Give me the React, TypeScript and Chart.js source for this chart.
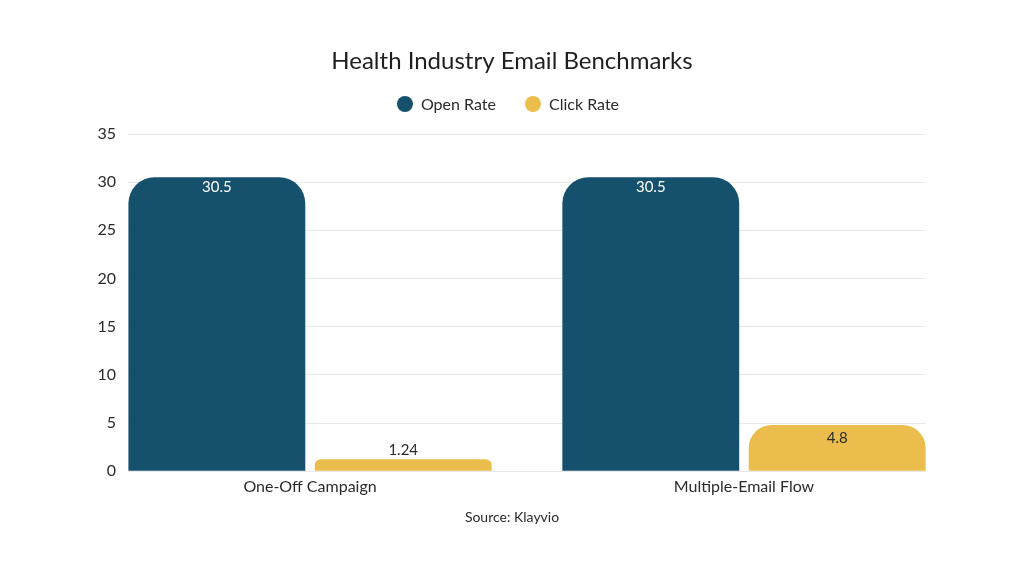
import React, { useEffect, useRef } from "react";
import { Chart, registerables } from "chart.js";

Chart.register(...registerables);

const categories = ["One-Off Campaign", "Multiple-Email Flow"];
const openRate = [30.5, 30.5];
const clickRate = [1.24, 4.8];
const yTicks = [0, 5, 10, 15, 20, 25, 30, 35];

const FONT = "Lato, 'Noto Sans', sans-serif";
const TEXT = "#2b2b2b";

// Writes each bar's value inside its top edge, or just above it when the bar is short.
const valueLabels = {
  id: "valueLabels",
  afterDatasetsDraw(chart: any) {
    const ctx = chart.ctx;
    ctx.save();
    ctx.font = `15px ${FONT}`;
    ctx.textAlign = "center";
    ctx.textBaseline = "middle";
    chart.data.datasets.forEach((ds: any, di: number) => {
      const meta = chart.getDatasetMeta(di);
      meta.data.forEach((bar: any, i: number) => {
        const v = ds.data[i].y;
        const h = bar.base - bar.y;
        if (h > 30) {
          ctx.fillStyle = di === 0 ? "#ffffff" : TEXT;
          ctx.fillText(String(v), bar.x, bar.y + (di === 0 ? 10 : 13));
        } else {
          ctx.fillStyle = TEXT;
          ctx.fillText(String(v), bar.x, bar.y - 9);
        }
      });
    });
    ctx.restore();
  },
};

// Legend row with round swatches, placed between the title and the plot.
const dotLegend = {
  id: "dotLegend",
  afterDraw(chart: any) {
    const ctx = chart.ctx;
    const r = 8;
    const textGap = 8;
    const itemGap = 29;
    const y = 104;
    ctx.save();
    ctx.font = `16px ${FONT}`;
    ctx.textBaseline = "middle";
    ctx.textAlign = "left";
    const items = chart.data.datasets.map((ds: any) => ({
      label: ds.label,
      color: ds.backgroundColor,
      w: 2 * r + textGap + ctx.measureText(ds.label).width,
    }));
    const total = items.reduce((s: number, it: any) => s + it.w, 0) + itemGap * (items.length - 1);
    let x = chart.width / 2 - 4 - total / 2;
    items.forEach((it: any) => {
      ctx.fillStyle = it.color;
      ctx.beginPath();
      ctx.arc(x + r, y, r, 0, Math.PI * 2);
      ctx.fill();
      ctx.fillStyle = TEXT;
      ctx.fillText(it.label, x + 2 * r + textGap, y + 1);
      x += it.w + itemGap;
    });
    ctx.restore();
  },
};

export default function App() {
  const ref = useRef<HTMLCanvasElement>(null);

  useEffect(() => {
    if (!ref.current) return;
    const chart = new Chart(ref.current, {
      type: "bar",
      data: {
        datasets: [
          {
            label: "Open Rate",
            data: openRate.map((y, x) => ({ x, y })),
            backgroundColor: "#15516d",
            borderRadius: { topLeft: 26, topRight: 26, bottomLeft: 0, bottomRight: 0 },
            borderSkipped: false,
            categoryPercentage: 0.859,
            barPercentage: 0.949,
          },
          {
            label: "Click Rate",
            data: clickRate.map((y, x) => ({ x, y })),
            backgroundColor: "#eabd4d",
            borderRadius: { topLeft: 24, topRight: 24, bottomLeft: 0, bottomRight: 0 },
            borderSkipped: false,
            categoryPercentage: 0.859,
            barPercentage: 0.949,
          },
        ],
      },
      options: {
        responsive: false,
        animation: false,
        layout: { padding: { top: 0, left: 0, right: 0, bottom: 50 } },
        scales: {
          x: {
            type: "linear",
            offset: false,
            min: -0.4195,
            max: 1.4195,
            grid: { display: false, drawTicks: false },
            border: { display: false },
            afterBuildTicks: (scale: any) => {
              scale.ticks = categories.map((_, i) => ({ value: i }));
            },
            afterFit: (scale: any) => {
              scale.height = 30;
            },
            ticks: {
              padding: 6,
              color: TEXT,
              font: { family: FONT, size: 16 },
              callback: (v: any) => categories[v] ?? "",
            },
          },
          y: {
            min: 0,
            max: 35,
            afterBuildTicks: (scale: any) => {
              scale.ticks = yTicks.map((value) => ({ value }));
            },
            afterFit: (scale: any) => {
              scale.width = 128;
            },
            grid: { color: "#e8e8e8", drawTicks: false },
            border: { display: false },
            ticks: {
              padding: 12,
              color: TEXT,
              font: { family: FONT, size: 16 },
            },
          },
          // empty right-hand margin so the plot ends where the grid does
          yRight: {
            position: "right",
            grid: { display: false, drawTicks: false },
            border: { display: false },
            ticks: { display: false },
            afterFit: (scale: any) => {
              scale.width = 98;
            },
          },
        },
        plugins: {
          title: {
            display: true,
            text: "Health Industry Email Benchmarks",
            color: "#1f1f1f",
            font: { family: FONT, size: 24, weight: "normal" },
            padding: { top: 46.6, bottom: 58.6 },
          },
          subtitle: {
            display: true,
            position: "bottom",
            text: "Source: Klayvio",
            color: TEXT,
            font: { family: FONT, size: 14, weight: "normal" },
            padding: { top: 8, bottom: 0 },
          },
          legend: { display: false },
          tooltip: { enabled: false },
        },
      },
      plugins: [valueLabels, dotLegend],
    });
    return () => chart.destroy();
  }, []);

  return (
    <div style={{ position: "fixed", left: 0, top: 0, width: 1024, height: 576, background: "#fff" }}>
      <canvas ref={ref} width={1024} height={576} />
    </div>
  );
}
